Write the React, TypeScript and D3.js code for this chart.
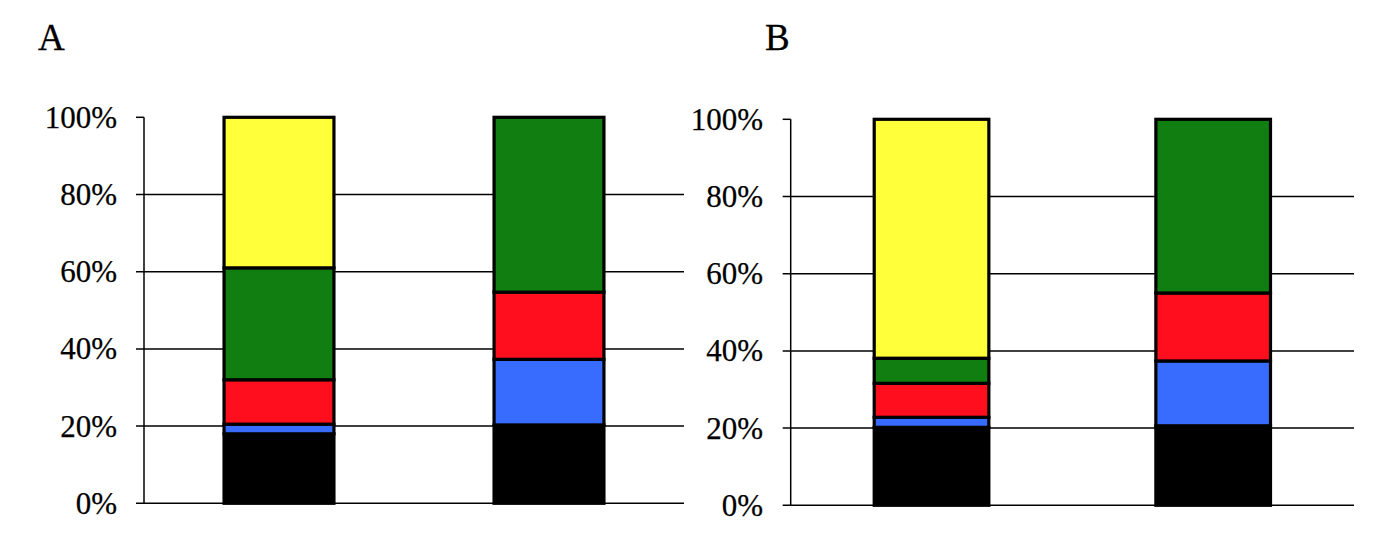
import React from "react";
import * as d3 from "d3";

const seriesNames = ["black", "blue", "red", "green", "yellow"];
const seriesColors = ["#000000", "#386CFF", "#FF0E1E", "#107E10", "#FFFF3A"];
const categories = ["1", "2"];
const yTicks = [0, 20, 40, 60, 80, 100];

// values in percent, per category: [black, blue, red, green, yellow]
const panelAValues = [
  [18, 2.5, 11.5, 29, 39],
  [20.3, 17, 17.4, 45.3, 0],
];
const panelBValues = [
  [20.2, 2.6, 8.8, 6.5, 61.9],
  [20.6, 16.8, 17.6, 45, 0],
];

type PanelProps = {
  label: string;
  values: number[][];
  x0: number;
  x1: number;
  yBottom: number;
  yTop: number;
  labelX: number;
  tickLabelX: number;
};

const FONT = "Liberation Serif, Times New Roman, serif";

function Panel({ label, values, x0, x1, yBottom, yTop, labelX, tickLabelX }: PanelProps) {
  const x = d3
    .scaleBand<string>()
    .domain(categories)
    .range([x0, x1])
    .paddingInner(0.593)
    .paddingOuter(0.2965);
  const y = d3.scaleLinear().domain([0, 100]).range([yBottom, yTop]);

  const rows = categories.map((c, i) => {
    const obj: Record<string, number | string> = { cat: c };
    seriesNames.forEach((s, j) => (obj[s] = values[i][j]));
    return obj;
  });
  const stack = d3.stack<Record<string, number | string>>().keys(seriesNames)(rows as any);

  return (
    <g>
      <text x={labelX} y={50} fontSize={37} fontFamily={FONT} fill="#000" stroke="#000" strokeWidth={0.3}>
        {label}
      </text>
      {yTicks.map((t) => (
        <g key={t}>
          <line x1={x0 - 8} x2={t === 100 ? x0 : x1} y1={y(t)} y2={y(t)} stroke="#000" strokeWidth={1.5} />
          <text
            x={tickLabelX}
            y={y(t) + 10.5}
            textAnchor="end"
            fontSize={31}
            fontFamily={FONT}
            fill="#000"
            stroke="#000"
            strokeWidth={0.25}
          >
            {t}%
          </text>
        </g>
      ))}
      <line x1={x0} x2={x0} y1={y(0)} y2={y(100)} stroke="#000" strokeWidth={1.5} />
      {stack.map((layer, si) =>
        layer.map((d, ci) => {
          const h = y(d[0]) - y(d[1]);
          if (h <= 0.01) return null;
          return (
            <rect
              key={`${si}-${ci}`}
              x={x(categories[ci])!}
              y={y(d[1])}
              width={x.bandwidth()}
              height={h}
              fill={seriesColors[si]}
              stroke="#000"
              strokeWidth={3.2}
            />
          );
        })
      )}
    </g>
  );
}

export default function App() {
  return (
    <svg
      width={1391}
      height={543}
      style={{ position: "absolute", left: 0, top: 0, background: "#fff" }}
    >
      <rect x={0} y={0} width={1391} height={543} fill="#fff" />
      <Panel
        label="A"
        values={panelAValues}
        x0={144}
        x1={684}
        yBottom={503.3}
        yTop={117.3}
        labelX={38}
        tickLabelX={117}
      />
      <Panel
        label="B"
        values={panelBValues}
        x0={790.7}
        x1={1354}
        yBottom={505.3}
        yTop={119.3}
        labelX={765}
        tickLabelX={763}
      />
    </svg>
  );
}
